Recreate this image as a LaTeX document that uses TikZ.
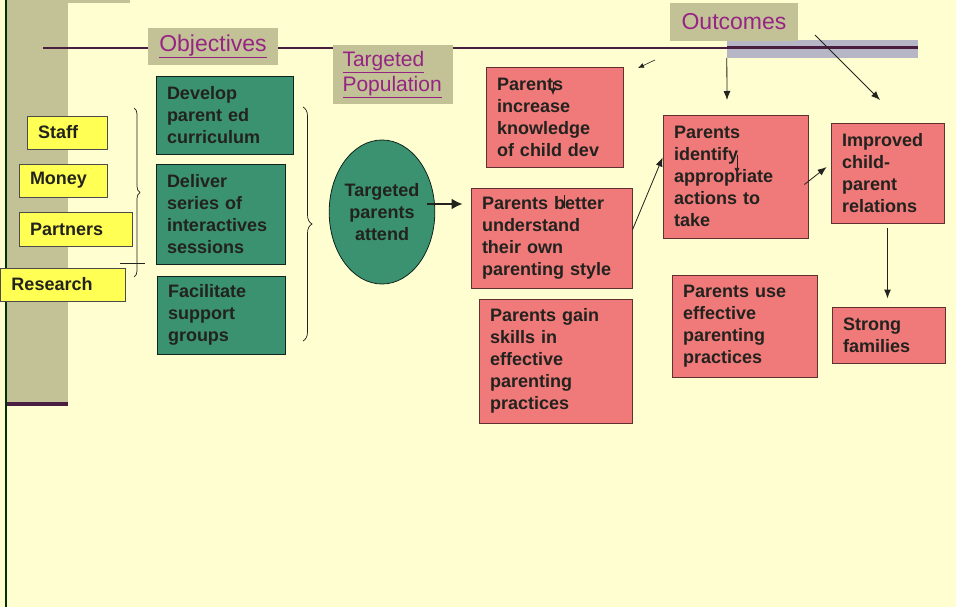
\documentclass[tikz,border=0pt]{standalone}
\usepackage{fontspec}
\setmainfont{Liberation Sans}
\usepackage{tikz}
\usetikzlibrary{arrows.meta,shapes.geometric,decorations.pathreplacing}

\definecolor{paper}{RGB}{254,254,208}
\definecolor{khaki}{RGB}{194,194,150}
\definecolor{plum}{RGB}{74,30,64}
\definecolor{labelpurple}{RGB}{150,36,132}
\definecolor{barblue}{RGB}{182,182,198}
\definecolor{resyellow}{RGB}{255,255,84}
\definecolor{actteal}{RGB}{58,146,112}
\definecolor{outpink}{RGB}{240,122,122}
\definecolor{ink}{RGB}{34,34,30}

\tikzset{
  base/.style={rectangle, inner xsep=11pt, inner ysep=3pt, align=left,
    line width=0.8pt, font=\bfseries\fontsize{18}{22}\selectfont, text=ink},
  res/.style={base, fill=resyellow, draw=black!70},
  act/.style={base, fill=actteal, draw=black!75!actteal},
  outc/.style={base, fill=outpink, draw=black!60!outpink},
  tag/.style={fill=khaki, inner sep=0pt, text=labelpurple,
    font=\fontsize{23}{26}\selectfont},
  conn/.style={draw=ink, line width=0.8pt, -{Latex[length=9pt,width=7pt]}},
  tiny/.style={draw=ink, line width=0.6pt, -{Latex[length=6pt,width=5pt]}},
  brc/.style={draw=ink, line width=0.7pt, decorate}
}

\begin{document}
\begin{tikzpicture}[x=1pt,y=-1pt]
  \useasboundingbox (0,0) rectangle (956,607);
  \fill[paper] (0,0) rectangle (956,607);
  %side bar on the left
  \fill[khaki] (5,0) rectangle (68,405);
  \fill[khaki] (5,0) rectangle (130,3);
  \draw[line width=2.5pt, black!80!green] (6,0) -- (6,607);
  \draw[line width=4pt, plum] (7,404) -- (68,404);
  %title rule
  \node[fill=barblue, minimum width=191pt, minimum height=18pt, inner sep=0pt] (bar) at (822.5,49) {};
  \draw[line width=2pt, plum] (43,48) -- (918,48);
  \draw[line width=3pt, plum] (727,48) -- (918,48);
  \node[tag, minimum width=130pt, minimum height=37pt] (obj) at (213,46.5) {\underline{Objectives}};
  \node[tag, align=left, text width=100pt, inner xsep=10pt, minimum height=59pt,
    font=\fontsize{21}{25}\selectfont] (pop) at (392.5,74.5) {\underline{Targeted}\\\underline{Population}};
  \node[tag, minimum width=128pt, minimum height=38pt] (out) at (734,22) {Outcomes};

  %resources
  \node[res, text width=58pt, minimum height=33pt] (staff) at (67,132.5) {Staff};
  \node[res, text width=66pt, minimum height=33pt] (money) at (63,180.5) {Money};
  \node[res, text width=91pt, minimum height=34pt] (partners) at (75.5,229) {Partners};
  \node[res, text width=103pt, minimum height=33pt] (research) at (63,284.5) {Research};
  \draw[brc, decoration={brace,amplitude=6pt}] (134,108) -- (134,277);
  \draw[ink, line width=0.7pt] (120,263) -- (145,263);

  %activities
  \node[act, text width=115pt, minimum height=78pt] (develop) at (224.5,115) {Develop\\parent ed\\curriculum};
  \node[act, text width=107pt, minimum height=100pt] (deliver) at (220.5,214) {Deliver\\series of\\interactives\\sessions};
  \node[act, text width=106pt, minimum height=78pt] (facilitate) at (221,315) {Facilitate\\support\\groups};
  \draw[brc, decoration={brace,amplitude=9pt}] (303,107) -- (303,341);

  \node[ellipse, fill=actteal, draw=black!75!actteal, line width=0.8pt, minimum width=98pt,
    minimum height=144pt, inner sep=0pt, align=center, text=ink,
    font=\bfseries\fontsize{18}{22}\selectfont] (attend) at (382,212) {Targeted\\parents\\attend};

  %outcomes
  \node[outc, text width=115pt, minimum height=100pt] (know) at (554.5,117) {Parents\\increase\\knowledge\\of child dev};
  \node[outc, text width=139pt, minimum height=100pt] (understand) at (551.5,238) {Parents better\\understand\\their own\\parenting style};
  \node[outc, text width=131pt, minimum height=124pt] (skills) at (555.5,361) {Parents gain\\skills in\\effective\\parenting\\practices};
  \node[outc, text width=123pt, minimum height=123pt] (identify) at (735.5,176.5) {Parents\\identify\\appropriate\\actions to\\take};
  \node[outc, text width=91pt, minimum height=100pt] (relations) at (887.5,173) {Improved\\child-\\parent\\relations};
  \node[outc, text width=123pt, minimum height=102pt] (usepr) at (744.5,326) {Parents use\\effective\\parenting\\practices};
  \node[outc, text width=91pt, minimum height=56pt] (strong) at (888.5,335) {Strong\\families};

  %connectors
  \coordinate (a0) at ([shift={(-8,-8)}]attend.east);
  \draw[draw=ink, line width=2.5pt, -{Latex[length=11pt,width=11pt]}] (a0) -- ([shift={(-8,0)}]a0 -| understand.west);
  \draw[conn] ([shift={(0,-8)}]understand.east) -- ([shift={(0,-19)}]identify.west);
  \draw[conn] ([shift={(-4,8)}]identify.east) -- ([shift={(-4,-6)}]relations.west);
  \draw[conn, line width=1.2pt] ([shift={(0,5)}]relations.south) -- ([shift={(0,-8)}]relations.south |- strong.north);
  \coordinate (b1) at (727,100);
  \draw[conn] (bar.south west) -- (b1);
  \coordinate (o1) at (815,35);
  \coordinate (o2) at (880,100);
  \draw[conn] (o1) -- (o2);
  \coordinate (s1) at (655,60);
  \coordinate (s2) at (638,68);
  \draw[tiny] (s1) -- (s2);
  %stray marks in the text
  \draw[tiny] (553,82) -- (553,95);
  \draw[tiny] (737,155) -- (737,174);
  \draw[ink, line width=0.6pt] (564,195) -- (564,208);
\end{tikzpicture}
\end{document}
